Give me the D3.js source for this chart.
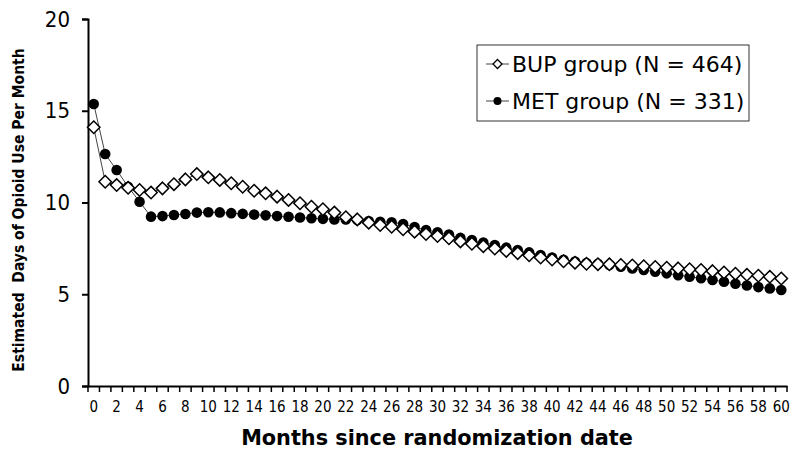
<!DOCTYPE html>
<html>
<head>
<meta charset="utf-8">
<script src="https://cdn.jsdelivr.net/npm/d3@7"></script>
<style>
  body { margin: 0; background: #fff; }
  svg { display: block; font-family: "DejaVu Sans", sans-serif; }
</style>
</head>
<body>
<svg id="chart" width="800" height="452"></svg>
<script>
/* ---------------- DATA ---------------- */
const months = d3.range(0, 61);

const bupValues = [
  14.1, 11.13, 10.95, 10.8, 10.68, 10.54, 10.77, 11.0, 11.26, 11.55,
  11.37, 11.23, 11.05, 10.86, 10.64, 10.5, 10.32, 10.14, 9.96, 9.77,
  9.63, 9.45, 9.2, 9.08, 8.9, 8.77, 8.68, 8.54, 8.41, 8.28,
  8.17, 8.05, 7.88, 7.75, 7.62, 7.49, 7.36, 7.24, 7.12, 7.0,
  6.89, 6.8, 6.72, 6.66, 6.64, 6.63, 6.6, 6.57, 6.53, 6.49,
  6.45, 6.41, 6.36, 6.32, 6.26, 6.19, 6.12, 6.06, 6.01, 5.95,
  5.86
];

const metValues = [
  15.37, 12.64, 11.77, 10.86, 10.04, 9.23, 9.26, 9.32, 9.37, 9.45,
  9.47, 9.46, 9.42, 9.38, 9.34, 9.3, 9.26, 9.22, 9.18, 9.14,
  9.11, 9.08, 9.07, 9.04, 8.99, 8.95, 8.92, 8.83, 8.66, 8.5,
  8.38, 8.26, 8.07, 7.95, 7.82, 7.68, 7.54, 7.41, 7.28, 7.14,
  7.0, 6.88, 6.78, 6.7, 6.66, 6.6, 6.5, 6.4, 6.32, 6.23,
  6.14, 6.04, 5.96, 5.87, 5.78, 5.68, 5.57, 5.48, 5.39, 5.32,
  5.23
];

const seriesNames = ["BUP group (N = 464)", "MET group (N = 331)"];
const yTicks = [0, 5, 10, 15, 20];
const xTickLabels = months.filter(m => m % 2 === 0);

/* ---------------- SCALES ---------------- */
const svg = d3.select("#chart");

const x = d3.scaleBand()
  .domain(months)
  .range([88, 787])
  .padding(0);

const y = d3.scaleLinear()
  .domain([0, 20])
  .range([386, 19]);

const cx = m => x(m) + x.bandwidth() / 2;

/* ---------------- AXES ---------------- */
const yAxis = svg.append("g")
  .attr("transform", "translate(88,0)")
  .call(d3.axisLeft(y).tickValues(yTicks).tickSize(6).tickPadding(12));
yAxis.select(".domain").attr("stroke", "#000").attr("stroke-width", 2);
yAxis.selectAll(".tick line").attr("stroke", "#000").attr("stroke-width", 2);
yAxis.selectAll(".tick text")
  .attr("font-size", 22)
  .attr("font-family", "DejaVu Sans Condensed, DejaVu Sans, sans-serif")
  .attr("fill", "#000");

const xAxis = svg.append("g")
  .attr("transform", "translate(0,386)")
  .call(d3.axisBottom(x).tickValues(xTickLabels).tickSize(0).tickPadding(15));
xAxis.select(".domain").attr("stroke", "#000").attr("stroke-width", 2);
xAxis.selectAll(".tick text")
  .attr("font-size", 15)
  .attr("font-family", "DejaVu Sans Condensed, DejaVu Sans, sans-serif")
  .attr("fill", "#000");

/* tick marks between categories */
svg.append("g")
  .selectAll("line")
  .data(months.concat([61]))
  .enter()
  .append("line")
  .attr("x1", m => m === 61 ? x.range()[1] : x(m))
  .attr("x2", m => m === 61 ? x.range()[1] : x(m))
  .attr("y1", 386)
  .attr("y2", 392)
  .attr("stroke", "#000")
  .attr("stroke-width", 1.5);

/* ---------------- TITLES ---------------- */
svg.append("text")
  .attr("x", 437)
  .attr("y", 445)
  .attr("text-anchor", "middle")
  .attr("font-size", 20.8)
  .attr("font-weight", "bold")
  .text("Months since randomization date");

svg.append("text")
  .attr("transform", "translate(24,210) rotate(-90)")
  .attr("text-anchor", "middle")
  .attr("font-size", 15.5)
  .attr("font-weight", "bold")
  .attr("font-family", "DejaVu Sans Condensed, DejaVu Sans, sans-serif")
  .style("white-space", "pre")
  .text("Estimated  Days of Opioid Use Per Month");

/* ---------------- LINES ---------------- */
const line = d3.line()
  .x((d, i) => cx(months[i]))
  .y(d => y(d));

svg.append("path")
  .datum(bupValues)
  .attr("d", line)
  .attr("fill", "none")
  .attr("stroke", "#444")
  .attr("stroke-width", 1);

svg.append("path")
  .datum(metValues)
  .attr("d", line)
  .attr("fill", "none")
  .attr("stroke", "#444")
  .attr("stroke-width", 1);

const diamond = r => `M0,${-r}L${r},0L0,${r}L${-r},0Z`;

svg.append("g")
  .selectAll("circle")
  .data(metValues)
  .enter()
  .append("circle")
  .attr("cx", (d, i) => cx(months[i]))
  .attr("cy", d => y(d))
  .attr("r", 5.3)
  .attr("fill", "#000");

svg.append("g")
  .selectAll("path")
  .data(bupValues)
  .enter()
  .append("path")
  .attr("transform", (d, i) => `translate(${cx(months[i])},${y(d)})`)
  .attr("d", diamond(6.2))
  .attr("fill", "#fff")
  .attr("stroke", "#000")
  .attr("stroke-width", 1.5);

/* ---------------- LEGEND ---------------- */
const legend = svg.append("g");
legend.append("rect")
  .attr("x", 477)
  .attr("y", 45)
  .attr("width", 272)
  .attr("height", 76)
  .attr("fill", "#fff")
  .attr("stroke", "#333")
  .attr("stroke-width", 1);

const rows = legend.selectAll("g.row")
  .data(seriesNames)
  .enter()
  .append("g")
  .attr("class", "row")
  .attr("transform", (d, i) => `translate(0,${64 + i * 37})`);

rows.append("line")
  .attr("x1", 486).attr("x2", 509)
  .attr("y1", 0).attr("y2", 0)
  .attr("stroke", "#444")
  .attr("stroke-width", 1);

rows.filter((d, i) => i === 0)
  .append("path")
  .attr("transform", "translate(497.5,0)")
  .attr("d", diamond(4.5))
  .attr("fill", "#fff")
  .attr("stroke", "#000")
  .attr("stroke-width", 1.3);

rows.filter((d, i) => i === 1)
  .append("circle")
  .attr("cx", 497.5)
  .attr("cy", 0)
  .attr("r", 4)
  .attr("fill", "#000");

rows.append("text")
  .attr("x", 512)
  .attr("y", 8)
  .attr("font-size", 22)
  .attr("fill", "#000")
  .text(d => d);
</script>
</body>
</html>
